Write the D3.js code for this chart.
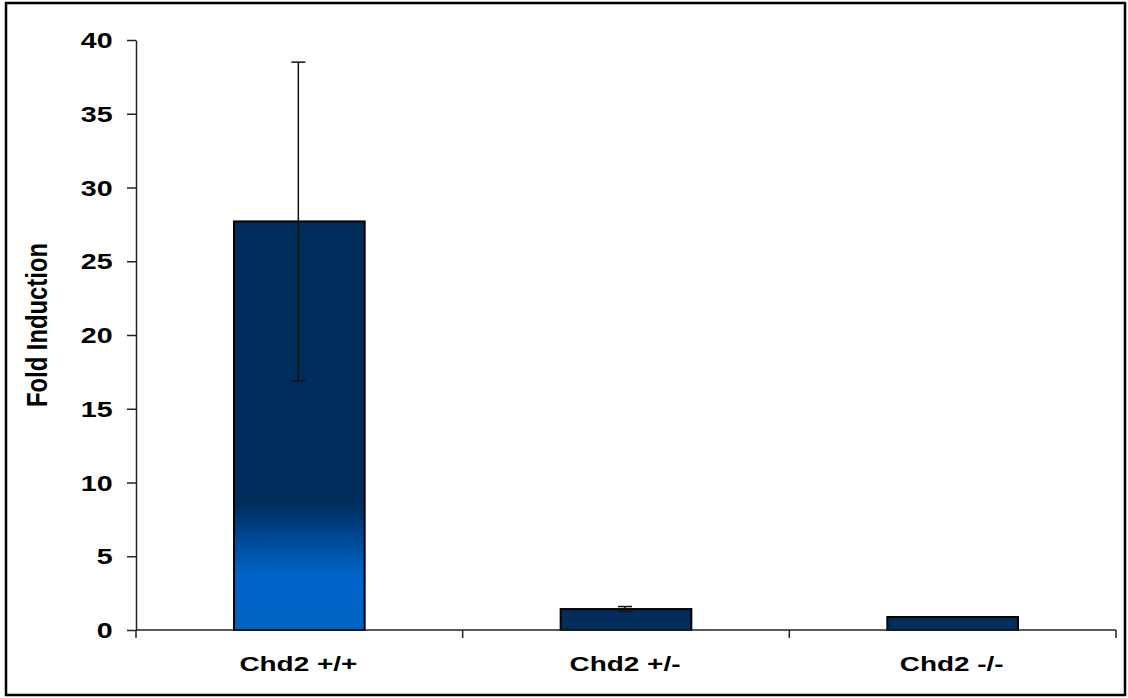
<!DOCTYPE html>
<html>
<head>
<meta charset="utf-8">
<script src="https://cdn.jsdelivr.net/npm/d3@7"></script>
<style>
  body { margin: 0; background: #fff; }
  svg { display: block; font-family: "Liberation Sans", Arial, sans-serif; }
</style>
</head>
<body>
<svg id="chart" width="1128" height="698"></svg>
<script>
var categories = ["Chd2 +/+", "Chd2 +/-", "Chd2 -/-"];
var foldValues = [27.7, 1.42, 0.88];
var foldErrors = [10.8, 0.17, 0];
var yTicks = [0, 5, 10, 15, 20, 25, 30, 35, 40];

var margin = { top: 40, right: 12, bottom: 68, left: 136 },
    width = 1128 - margin.left - margin.right,
    height = 698 - margin.top - margin.bottom;

var svg = d3.select("#chart");

// outer frame
svg.append("rect")
    .attr("x", 6)
    .attr("y", 3)
    .attr("width", 1119)
    .attr("height", 692)
    .attr("fill", "none")
    .attr("stroke", "#000")
    .attr("stroke-width", 2.5);

var defs = svg.append("defs");
var grad = defs.append("linearGradient")
    .attr("id", "barGrad")
    .attr("x1", 0).attr("y1", 0)
    .attr("x2", 0).attr("y2", 1);
grad.append("stop").attr("offset", "0").attr("stop-color", "#002D5C");
grad.append("stop").attr("offset", "0.69").attr("stop-color", "#002D5C");
grad.append("stop").attr("offset", "0.78").attr("stop-color", "#004A98");
grad.append("stop").attr("offset", "0.87").attr("stop-color", "#0065CA");
grad.append("stop").attr("offset", "1").attr("stop-color", "#0062C4");

var g = svg.append("g")
    .attr("transform", "translate(" + margin.left + "," + margin.top + ")");

var x = d3.scaleBand()
    .domain(categories)
    .range([0, width])
    .paddingInner(0.6)
    .paddingOuter(0.3);

var y = d3.scaleLinear()
    .domain([0, 40])
    .range([height, 0]);

// bars
g.selectAll(".bar")
    .data(categories)
    .enter().append("rect")
    .attr("class", "bar")
    .attr("x", d => x(d))
    .attr("y", (d, i) => y(foldValues[i]))
    .attr("width", x.bandwidth())
    .attr("height", (d, i) => y(0) - y(foldValues[i]))
    .attr("fill", (d, i) => i === 0 ? "url(#barGrad)" : "#002D5C")
    .attr("stroke", "#000")
    .attr("stroke-width", 2);

// error bars
var errG = g.selectAll(".err")
    .data(categories.filter((d, i) => foldErrors[i] > 0))
    .enter().append("g")
    .attr("class", "err")
    .attr("stroke", "#111")
    .attr("stroke-width", 1.5);

errG.append("line")
    .attr("x1", d => x(d) + x.bandwidth() / 2 - 1)
    .attr("x2", d => x(d) + x.bandwidth() / 2 - 1)
    .attr("y1", d => { var i = categories.indexOf(d); return y(foldValues[i] + foldErrors[i]); })
    .attr("y2", d => { var i = categories.indexOf(d); return y(foldValues[i] - foldErrors[i]); });

[1, -1].forEach(function(sign) {
    errG.append("line")
        .attr("x1", d => x(d) + x.bandwidth() / 2 - 8)
        .attr("x2", d => x(d) + x.bandwidth() / 2 + 6)
        .attr("y1", d => { var i = categories.indexOf(d); return y(foldValues[i] + sign * foldErrors[i]); })
        .attr("y2", d => { var i = categories.indexOf(d); return y(foldValues[i] + sign * foldErrors[i]); });
});

// y axis
var yAxis = g.append("g")
    .attr("class", "y-axis")
    .call(d3.axisLeft(y).tickValues(yTicks).tickSize(9).tickSizeOuter(0).tickPadding(0));

yAxis.select(".domain").attr("stroke", "#222").attr("stroke-width", 1.5);
yAxis.selectAll(".tick line").attr("stroke", "#222").attr("stroke-width", 1.5);
yAxis.selectAll(".tick text")
    .attr("x", -18)
    .attr("dy", "0.35em")
    .attr("transform", "scale(1.3,1)")
    .style("font-size", "22px")
    .style("font-weight", "bold")
    .style("font-family", "'Liberation Sans', Arial, sans-serif")
    .attr("fill", "#000");

// x axis (ticks at category boundaries)
var xAxis = g.append("g")
    .attr("class", "x-axis")
    .attr("transform", "translate(0," + height + ")");

xAxis.append("line")
    .attr("x1", 0).attr("x2", width)
    .attr("stroke", "#222").attr("stroke-width", 1.5);

var boundaries = d3.range(categories.length + 1).map(i => i * x.step());
xAxis.selectAll(".xtick")
    .data(boundaries)
    .enter().append("line")
    .attr("class", "xtick")
    .attr("x1", d => d).attr("x2", d => d)
    .attr("y1", 0).attr("y2", 8)
    .attr("stroke", "#222").attr("stroke-width", 1.5);

xAxis.selectAll(".xlabel")
    .data(categories)
    .enter().append("text")
    .attr("class", "xlabel")
    .attr("transform", d => "translate(" + (x(d) + x.bandwidth() / 2 - 1) + ",41) scale(1.33,1)")
    .attr("text-anchor", "middle")
    .style("font-size", "21px")
    .style("font-weight", "bold")
    .text(d => d);

// y axis label
svg.append("text")
    .attr("transform", "translate(47,325) rotate(-90) scale(1,1.3)")
    .attr("text-anchor", "middle")
    .style("font-size", "22px")
    .style("font-weight", "bold")
    .attr("textLength", 164)
    .attr("lengthAdjust", "spacingAndGlyphs")
    .text("Fold Induction");
</script>
</body>
</html>
